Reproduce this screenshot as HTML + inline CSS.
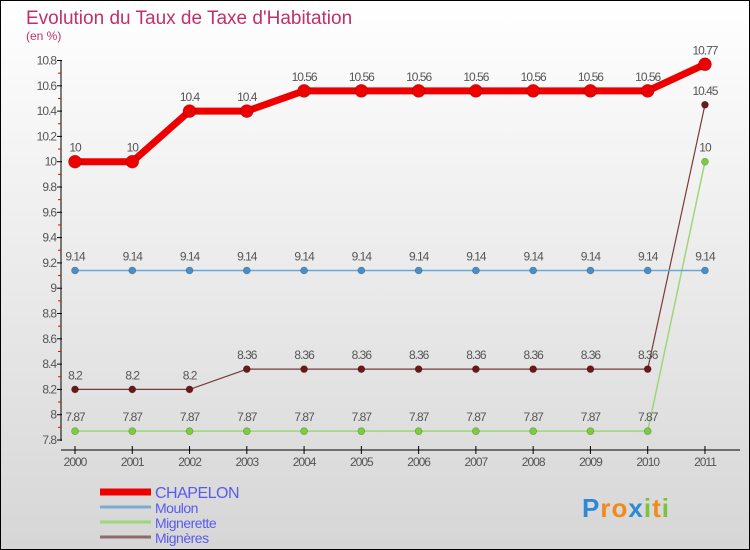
<!DOCTYPE html>
<html><head><meta charset="utf-8"><style>
body{margin:0}
#c{width:750px;height:550px;position:relative;box-sizing:border-box;border:1px solid #000;background:linear-gradient(#fff,#d6d6d6);overflow:hidden;font-family:"Liberation Sans",sans-serif}
</style></head><body>
<div id="c">
<svg id="s" width="750" height="550" style="position:absolute;left:-1px;top:-1px"></svg>
</div>
<script>
const years=["2000","2001","2002","2003","2004","2005","2006","2007","2008","2009","2010","2011"];
const chapelon=[10,10,10.4,10.4,10.56,10.56,10.56,10.56,10.56,10.56,10.56,10.77];
const moulon=[9.14,9.14,9.14,9.14,9.14,9.14,9.14,9.14,9.14,9.14,9.14,9.14];
const mignerette=[7.87,7.87,7.87,7.87,7.87,7.87,7.87,7.87,7.87,7.87,7.87,10];
const migneres=[8.2,8.2,8.2,8.36,8.36,8.36,8.36,8.36,8.36,8.36,8.36,10.45];
const yTicks=["7.8","8","8.2","8.4","8.6","8.8","9","9.2","9.4","9.6","9.8","10","10.2","10.4","10.6","10.8"];
const NS="http://www.w3.org/2000/svg",s=document.getElementById('s');
const x=i=>75+i*57.27, y=v=>440-(v-7.8)*126.5;
function el(t,a,p){const e=document.createElementNS(NS,t);for(const k in a)e.setAttribute(k,a[k]);(p||s).appendChild(e);return e;}
function tx(str,a){const e=el('text',a);e.textContent=str;return e;}
const t1=tx('Evolution du Taux de Taxe d\'Habitation',{x:26,y:24,'font-size':19,fill:'#c0306a'});

const t2=tx('(en %)',{x:26,y:40,'font-size':12,fill:'#c0306a'});

const ax=el('g',{});
el('line',{x1:61,y1:60,x2:61,y2:441,stroke:'#000'},ax);
el('line',{x1:61,y1:450,x2:740,y2:450,stroke:'#000'},ax);
yTicks.forEach((t,k)=>{const v=parseFloat(t),yy=y(v);
el('line',{x1:57,x2:62,y1:yy,y2:yy,stroke:'#000'},ax);
if(k>0)el('line',{x1:58,x2:61,y1:yy+12.65,y2:yy+12.65,stroke:'#e00'},ax);
const l=tx(t,{x:56,y:yy+4,'font-size':12,fill:'#555','text-anchor':'end','letter-spacing':'-1'});
});
years.forEach((yr,i)=>{el('line',{x1:x(i),x2:x(i),y1:446,y2:454,stroke:'#000'},ax);
const l=tx(yr,{x:x(i),y:466,'font-size':12,fill:'#555','text-anchor':'middle','letter-spacing':'-1'});
});
function series(name,data,color,w,r,dot){
const g=el('g',{});
el('polyline',{points:data.map((v,i)=>x(i)+','+y(v)).join(' '),fill:'none',stroke:color,'stroke-width':w,'stroke-linejoin':'round'},g);
data.forEach((v,i)=>{const c=el('circle',{cx:x(i),cy:y(v),r:r,fill:dot,stroke:'rgba(0,0,0,0.3)','stroke-width':0.6},g);

const l=tx(String(v),{x:x(i),y:y(v)-10,'font-size':12,fill:'#555','text-anchor':'middle','letter-spacing':'-1'});
});}
series('mignerette',mignerette,'#9ed67a',1.5,3.5,'#7ccc3c');
series('migneres',migneres,'#7a3a3a',1.2,3.5,'#6a1818');
series('moulon',moulon,'#6aa6d6',1.5,3.5,'#4a8ec8');
series('chapelon',chapelon,'#ee0000',7,6.5,'#ee0000');
const leg=[['CHAPELON','#ee0000',7,16],['Moulon','#7eaad0',3,14],['Mignerette','#9ed67a',3,14],['Mignères','#8e6a6a',3,14]];
leg.forEach((L,i)=>{const yy=492+i*15;const g=el('g',{});
el('line',{x1:100,x2:151,y1:yy,y2:yy,stroke:L[1],'stroke-width':L[2]},g);
const t=tx(L[0],{x:155,y:yy+6,'font-size':L[3],fill:'#5a5af0','letter-spacing':'-0.5'});g.appendChild(t);});
const p=tx('',{x:582,y:517,'font-size':26,'font-weight':'bold','letter-spacing':'1'});

[['P','#2a8ad8'],['r','#f08a1a'],['o','#f08a1a'],['x','#2a8ad8'],['i','#7cc23c'],['t','#f08a1a'],['i','#7cc23c']].forEach(c=>{const ts=el('tspan',{fill:c[1]},p);ts.textContent=c[0];});
</script>
</body></html>
